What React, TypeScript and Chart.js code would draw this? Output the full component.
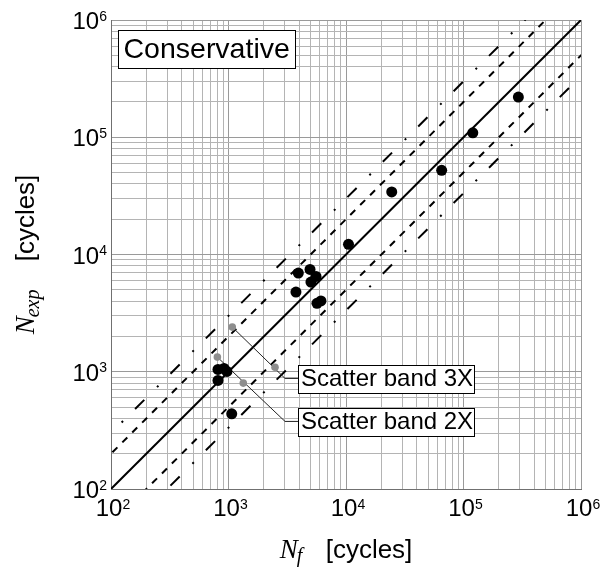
import React, { useEffect, useRef } from 'react';
import { Chart, registerables } from 'chart.js';

Chart.register(...registerables);

// ---------- data ----------
const decadeExponents = [2, 3, 4, 5, 6];
const minorMultipliers = [1, 2, 3, 4, 5, 6, 7, 8, 9];

// experimental points (black)
const nfExp = [2.93e5, 1.2e5, 6.52e4, 2.45e4, 1.05e4, 3.93e3, 4.94e3, 5.56e3, 5.03e3, 3.75e3, 5.66e3, 6.12e3, 814, 916, 970, 814, 1065];
const nexpExp = [2.2e5, 1.09e5, 5.22e4, 3.42e4, 1.22e4, 6.94e3, 7.46e3, 6.5e3, 5.82e3, 4.78e3, 3.83e3, 4.02e3, 1047, 1067, 1006, 843, 438];

// grey annotation markers
const nfGrey = [1077, 804, 2488, 1336];
const nexpGrey = [2403, 1333, 1094, 800];

// annotation connectors
const connector3XNf = [1077, 3027, 3902];
const connector3XNexp = [2403, 877, 877];
const connector2XNf = [804, 3027, 3902];
const connector2XNexp = [1333, 377, 377];

// reference lines
const bandNf = [10, 1e7];
const bandFactors = [1, 2, 0.5, 3, 1 / 3];

const labelConservative = 'Conservative';
const label3X = 'Scatter band 3X';
const label2X = 'Scatter band 2X';

const SANS = '"Liberation Sans", Arial, Helvetica, sans-serif';
const SERIF = '"Liberation Serif", "Times New Roman", serif';

const gridValues: number[] = [];
decadeExponents.forEach((e, i) => {
  if (i === decadeExponents.length - 1) {
    gridValues.push(Math.pow(10, e));
  } else {
    minorMultipliers.forEach((m) => gridValues.push(m * Math.pow(10, e)));
  }
});

const isMajor = (v: number) => Math.abs(Math.log10(v) - Math.round(Math.log10(v))) < 1e-9;

const toPts = (xs: number[], ys: number[]) => xs.map((x, i) => ({ x, y: ys[i] }));

const labelsPlugin = {
  id: 'labelsPlugin',
  afterDraw(chart: any) {
    const { ctx, chartArea, scales } = chart;
    const xs = scales.x;
    const ys = scales.y;
    ctx.save();
    ctx.fillStyle = '#000';
    ctx.textBaseline = 'alphabetic';
    ctx.textAlign = 'left';

    // tick labels
    decadeExponents.forEach((e) => {
      const v = Math.pow(10, e);
      ctx.font = `24px ${SANS}`;
      const w10 = ctx.measureText('10').width;
      ctx.font = `14px ${SANS}`;
      const ws = ctx.measureText(String(e)).width;
      const total = w10 + ws;
      // x axis
      const px = xs.getPixelForValue(v);
      const sx = px - total / 2 + 2;
      ctx.font = `24px ${SANS}`;
      ctx.fillText('10', sx, 516);
      ctx.font = `14px ${SANS}`;
      ctx.fillText(String(e), sx + w10, 508.5);
      // y axis
      const py = ys.getPixelForValue(v);
      const ry = chartArea.left - 4 - total;
      ctx.font = `24px ${SANS}`;
      ctx.fillText('10', ry, py + 9);
      ctx.font = `14px ${SANS}`;
      ctx.fillText(String(e), ry + w10, py + 0.5);
    });

    // x title
    {
      ctx.font = `italic 27px ${SERIF}`;
      const wN = ctx.measureText('N').width;
      ctx.font = `26px ${SANS}`;
      const wc = ctx.measureText('[cycles]').width;
      const total = 46 + wc;
      const sx = (chartArea.left + chartArea.right) / 2 - total / 2;
      const base = 558;
      ctx.font = `italic 27px ${SERIF}`;
      ctx.fillText('N', sx, base);
      ctx.font = `italic 20px ${SERIF}`;
      ctx.fillText('f', sx + wN - 1, base + 4);
      ctx.font = `26px ${SANS}`;
      ctx.fillText('[cycles]', sx + 46, base);
    }

    // y title
    {
      ctx.save();
      const cy = (chartArea.top + chartArea.bottom) / 2;
      ctx.translate(34, cy);
      ctx.rotate(-Math.PI / 2);
      ctx.font = `italic 27px ${SERIF}`;
      const wN = ctx.measureText('N').width;
      ctx.font = `26px ${SANS}`;
      const wc = ctx.measureText('[cycles]').width;
      const total = 73 + wc;
      const u0 = -total / 2;
      ctx.font = `italic 27px ${SERIF}`;
      ctx.fillText('N', u0, 0);
      ctx.font = `italic 20px ${SERIF}`;
      ctx.fillText('exp', u0 + wN - 1, 5);
      ctx.font = `26px ${SANS}`;
      ctx.fillText('[cycles]', u0 + 73, 0);
      ctx.restore();
    }

    // Conservative box
    {
      ctx.font = `28.5px ${SANS}`;
      const tw = ctx.measureText(labelConservative).width;
      const bx = Math.round(chartArea.left + 7) + 0.5;
      const by = Math.round(chartArea.top + 10) + 0.5;
      const bw = Math.round(tw + 11);
      const bh = 38;
      ctx.fillStyle = '#fff';
      ctx.fillRect(bx, by, bw, bh);
      ctx.strokeStyle = '#000';
      ctx.lineWidth = 1;
      ctx.strokeRect(bx, by, bw, bh);
      ctx.fillStyle = '#000';
      ctx.fillText(labelConservative, bx + 5, by + 27.5);
    }

    // scatter band boxes
    const drawBox = (text: string, nf: number, nexp: number) => {
      ctx.font = `24px ${SANS}`;
      const tw = ctx.measureText(text).width;
      const ax = Math.round(xs.getPixelForValue(nf)) + 0.5;
      const ay = ys.getPixelForValue(nexp);
      const top = Math.round(ay - 13) + 0.5;
      const bw = Math.round(tw + 4);
      const bh = 28;
      ctx.fillStyle = '#fff';
      ctx.fillRect(ax, top, bw, bh);
      ctx.strokeStyle = '#000';
      ctx.lineWidth = 1;
      ctx.strokeRect(ax, top, bw, bh);
      ctx.fillStyle = '#000';
      ctx.fillText(text, ax + 2.5, ay + 8);
    };
    drawBox(label3X, connector3XNf[2], connector3XNexp[2]);
    drawBox(label2X, connector2XNf[2], connector2XNexp[2]);

    ctx.restore();
  },
};

export default function App() {
  const canvasRef = useRef<HTMLCanvasElement | null>(null);

  useEffect(() => {
    const canvas = canvasRef.current;
    if (!canvas) return;

    const lineDs = (factor: number, dash: number[], width: number) => ({
      data: bandNf.map((n) => ({ x: n, y: n * factor })),
      showLine: true,
      borderColor: '#000',
      borderWidth: width,
      borderDash: dash,
      borderCapStyle: 'butt',
      pointRadius: 0,
      fill: false,
    });

    const datasets: any[] = [
      {
        data: toPts(nfExp, nexpExp),
        pointRadius: 5.5,
        pointBackgroundColor: '#000',
        pointBorderColor: '#000',
        pointBorderWidth: 0,
        showLine: false,
      },
      {
        data: toPts(nfGrey, nexpGrey),
        pointRadius: 3.8,
        pointBackgroundColor: '#8e8e8e',
        pointBorderColor: '#8e8e8e',
        pointBorderWidth: 0,
        showLine: false,
      },
      {
        data: toPts(connector3XNf, connector3XNexp),
        showLine: true,
        borderColor: '#222',
        borderWidth: 1,
        pointRadius: 0,
      },
      {
        data: toPts(connector2XNf, connector2XNexp),
        showLine: true,
        borderColor: '#222',
        borderWidth: 1,
        pointRadius: 0,
      },
      lineDs(bandFactors[0], [], 2),
      lineDs(bandFactors[1], [7, 7], 2),
      lineDs(bandFactors[2], [7, 7], 2),
      lineDs(bandFactors[3], [13, 18, 2, 17], 2),
      lineDs(bandFactors[4], [13, 18, 2, 17], 2),
    ];

    const gridColor = (c: any) => (c.tick && isMajor(c.tick.value) ? '#9a9a9a' : '#b4b4b4');

    const axis = (): any => ({
      type: 'logarithmic',
      min: 100,
      max: 1e6,
      afterBuildTicks: (scale: any) => {
        scale.ticks = gridValues.map((v) => ({ value: v, major: isMajor(v) }));
      },
      ticks: { display: false },
      grid: { color: gridColor, lineWidth: 1, drawTicks: false },
      border: { display: true, color: '#707070', width: 1 },
    });

    const chart = new Chart(canvas, {
      type: 'scatter',
      data: { datasets },
      options: {
        responsive: false,
        animation: false,
        events: [],
        layout: { padding: { left: 111, top: 20, right: 20, bottom: 80 } },
        plugins: { legend: { display: false }, tooltip: { enabled: false } },
        scales: { x: axis(), y: axis() },
      },
      plugins: [labelsPlugin],
    } as any);

    return () => chart.destroy();
  }, []);

  return (
    <div style={{ position: 'fixed', left: 0, top: 0, width: 601, height: 569, background: '#fff' }}>
      <canvas ref={canvasRef} width={601} height={569} style={{ width: 601, height: 569, display: 'block' }} />
    </div>
  );
}
